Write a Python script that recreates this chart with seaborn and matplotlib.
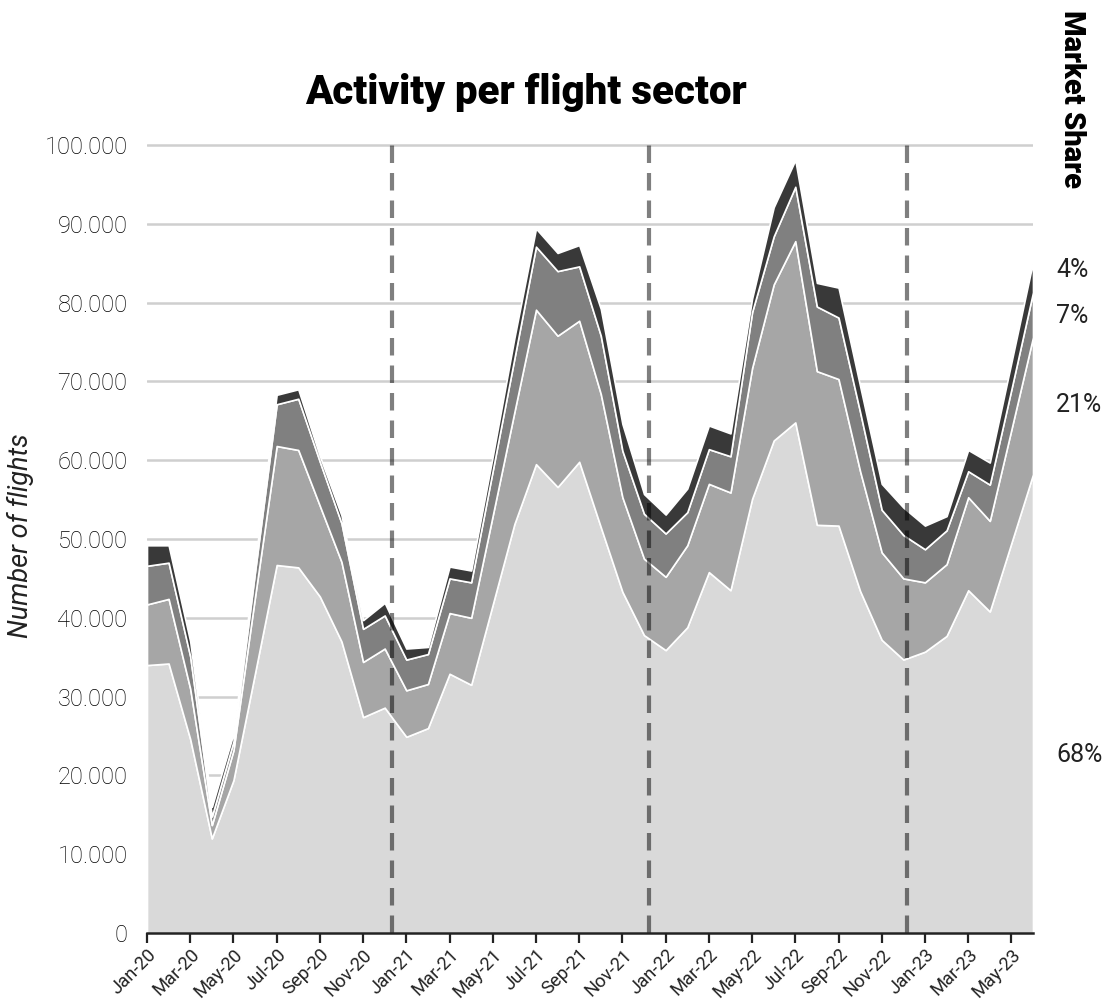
import numpy as np
import pandas as pd
import matplotlib
matplotlib.use("Agg")
import matplotlib.pyplot as plt
from matplotlib.ticker import FuncFormatter, FixedLocator
import seaborn as sns

# ---------------- data (thousands of flights, cumulative boundaries) -------------
months = pd.date_range("2020-01-01", "2023-06-01", freq="MS").strftime("%b-%y").tolist()

cum_bottom = [34.0, 34.2, 24.6, 12.0, 19.4, 33.0, 46.7, 46.4, 42.7, 37.0,
              27.4, 28.6, 24.9, 26.0, 32.9, 31.5, 41.7, 51.9, 59.5, 56.6,
              59.8, 51.5, 43.3, 37.8, 35.9, 38.8, 45.8, 43.5, 55.1, 62.5,
              64.8, 51.8, 51.7, 43.4, 37.2, 34.7, 35.7, 37.7, 43.5, 40.8,
              49.5, 58.2]
cum_second = [41.7, 42.4, 31.0, 13.7, 23.2, 42.7, 61.8, 61.3, 54.2, 47.1,
              34.4, 36.1, 30.8, 31.6, 40.6, 40.0, 53.0, 66.1, 79.1, 75.8,
              77.7, 68.4, 55.3, 47.5, 45.2, 49.2, 57.0, 55.9, 71.7, 82.3,
              87.8, 71.3, 70.3, 58.6, 48.3, 45.0, 44.5, 46.8, 55.3, 52.3,
              63.9, 75.6]
cum_third = [46.6, 47.0, 35.1, 14.8, 24.3, 45.9, 67.1, 67.8, 59.8, 52.0,
             38.6, 40.3, 34.7, 35.4, 45.0, 44.5, 58.7, 72.9, 87.1, 84.0,
             84.6, 75.8, 61.2, 53.2, 50.7, 53.4, 61.4, 60.5, 78.8, 88.4,
             94.7, 79.5, 78.1, 66.1, 53.7, 50.5, 48.7, 51.1, 58.6, 56.9,
             69.0, 81.3]
cum_total = [49.2, 49.2, 37.0, 16.0, 25.3, 47.0, 68.3, 69.0, 60.5, 53.0,
             39.7, 41.9, 36.1, 36.3, 46.5, 46.0, 60.5, 75.5, 89.4, 86.3,
             87.3, 79.2, 64.6, 55.7, 53.1, 56.4, 64.4, 63.4, 80.5, 92.1,
             98.1, 82.5, 81.9, 69.4, 57.0, 54.0, 51.7, 52.9, 61.3, 59.7,
             72.4, 85.2]

share_labels = ["68%", "21%", "7%", "4%"]
share_label_y = [22600, 67000, 78300, 84100]
year_markers = [11.34, 23.24, 35.16]   # dashed separators (month index)

title = "Activity per flight sector"
ylabel = "Number of flights"
side_title = "Market Share"

# layers (flights)
s1 = np.array(cum_bottom) * 1000
s2 = (np.array(cum_second) - np.array(cum_bottom)) * 1000
s3 = (np.array(cum_third) - np.array(cum_second)) * 1000
s4 = (np.array(cum_total) - np.array(cum_third)) * 1000
x = np.arange(len(months))

# ---------------- style -------------
sns.set_theme(style="white")
plt.rcParams["font.family"] = ["Roboto", "DejaVu Sans"]

W, H = 1102, 1002
fig = plt.figure(figsize=(W / 100, H / 100), dpi=100)
ax_left, ax_right = 147 / W, 1033 / W
ax_bottom = (H - 933) / H
ymax = 101000
ax_height_px = (933 - 145) * (ymax / 100000)
ax = fig.add_axes([ax_left, ax_bottom, ax_right - ax_left, ax_height_px / H])

colors = ["#d9d9d9", "#a6a6a6", "#808080", "#393939"]
ax.stackplot(x, s1, s2, s3, s4, colors=colors, edgecolor="white", linewidth=1.2, zorder=2)

ax.set_xlim(0, len(months) - 1)
ax.set_ylim(0, ymax)

ax.yaxis.grid(True, color="#cfcfcf", linewidth=1.8, zorder=0)
ax.xaxis.grid(False)
ax.set_axisbelow(True)
ax.yaxis.set_major_locator(FixedLocator(np.arange(0, 100001, 10000)))
ax.yaxis.set_major_formatter(FuncFormatter(lambda v, p: f"{v:,.0f}".replace(",", ".")))

for xm in year_markers:
    ax.plot([xm, xm], [0, 100000], color="black", alpha=0.5, linewidth=3,
            dashes=(4.2, 2.4), zorder=3, solid_capstyle="butt", dash_capstyle="butt")

for s in ["top", "right", "left"]:
    ax.spines[s].set_visible(False)
ax.spines["bottom"].set_color("#222222")
ax.spines["bottom"].set_linewidth(1.8)
ax.spines["bottom"].set_zorder(4)

ax.set_xticks(x[::2])
ax.set_xticklabels(months[::2], rotation=45, ha="right", rotation_mode="anchor",
                   fontsize=13.2, color="#222222")
ax.tick_params(axis="x", which="major", bottom=True, length=7, width=1.6,
               color="#222222", pad=2, direction="out")
ax.tick_params(axis="y", left=False, labelsize=17, labelcolor="#000000", pad=8)
for lab in ax.get_yticklabels():
    lab.set_fontweight("light")

ax.set_ylabel(ylabel, fontsize=19.5, style="italic", color="#222222")
ax.yaxis.set_label_coords((34 - 147) / 886, (933 - 536) / ax_height_px)

fig.text(526 / W, 1 - 93 / H, title, ha="center", va="center", fontsize=29,
         fontweight="black", color="black")
fig.text(1072 / W, 1 - 99 / H, side_title, ha="center", va="center", rotation=-90,
         fontsize=21, fontweight="black", color="black")

for lab, yv in zip(share_labels, share_label_y):
    ypix = 933 - yv / 100000 * (933 - 145)
    fig.text(1056 / W, 1 - ypix / H, lab, ha="left", va="center", fontsize=18,
             color="#222222")

fig.savefig("out.png", dpi=100)
